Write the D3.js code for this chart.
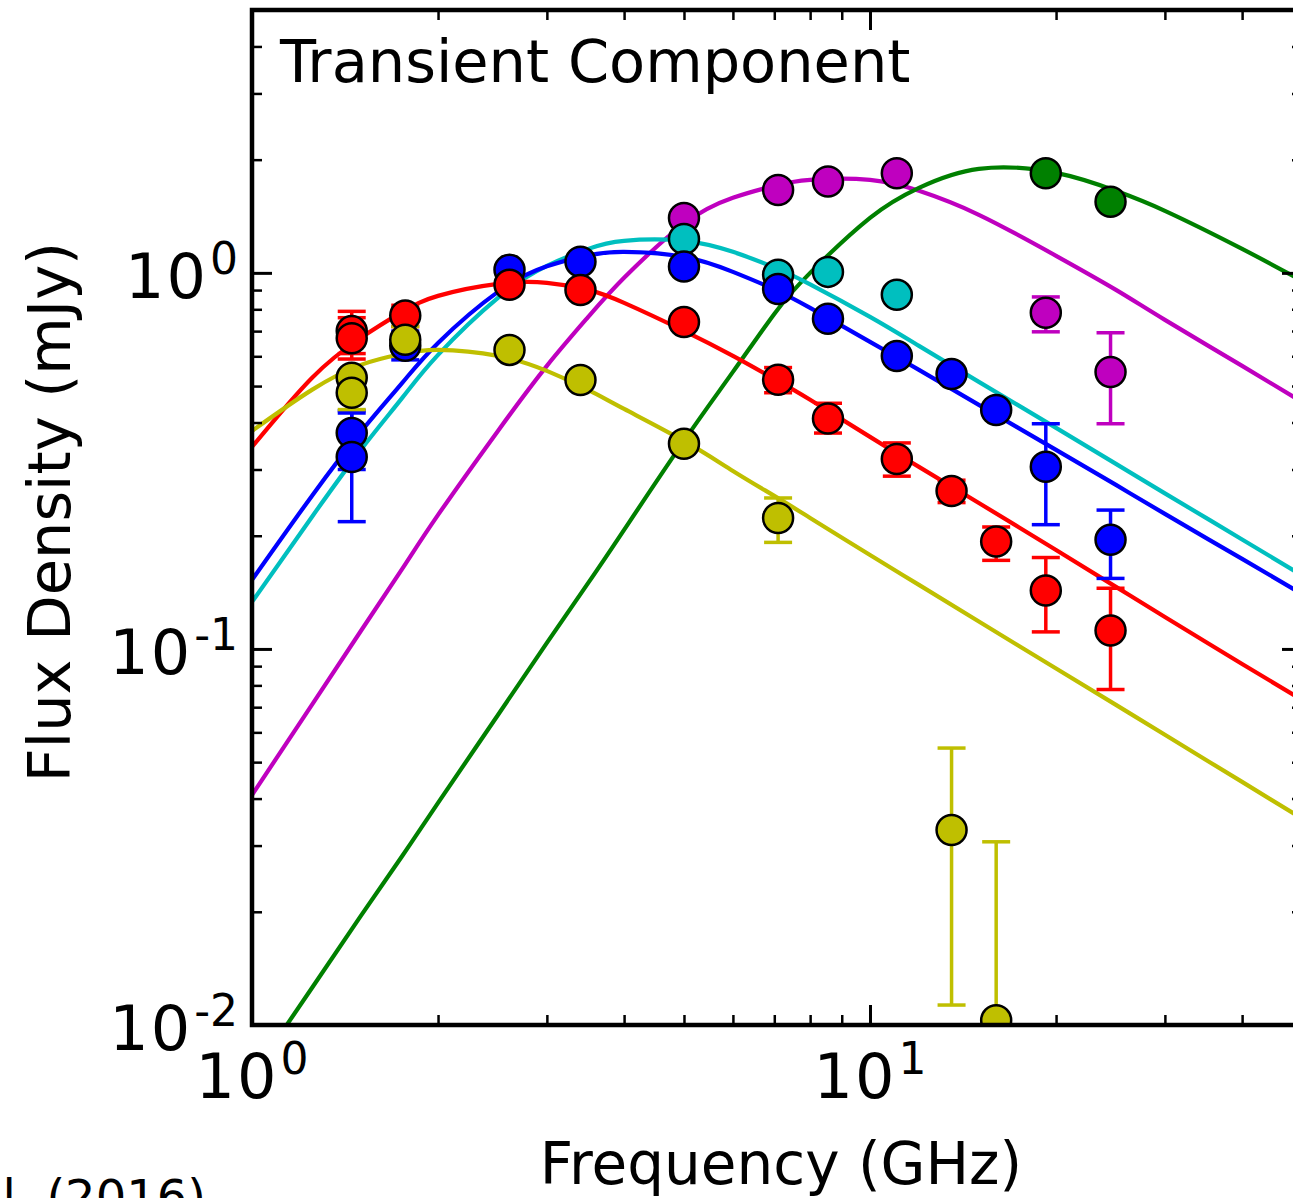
<!DOCTYPE html>
<html lang="en">
<head>
<meta charset="utf-8">
<title>Transient Component</title>
<script src="https://d3js.org/d3.v7.min.js"></script>
<style>
  body { margin: 0; background: #fff; }
  svg { display: block; font-family: "DejaVu Sans", sans-serif; }
</style>
</head>
<body>
<script>
// model curve grid (GHz) and fitted curves (mJy)
const modelFreq = [1, 1.25, 1.5, 1.75, 2, 2.5, 3, 3.5, 4, 5, 6, 7, 8, 10, 12, 15, 20, 25, 30, 40, 50];
const redModel = [0.3445, 0.5256, 0.6716, 0.7874, 0.8685, 0.9348, 0.9406, 0.9011, 0.8322, 0.7012, 0.6015, 0.5225, 0.4596, 0.3663, 0.3048, 0.2444, 0.1833, 0.1462, 0.1216, 0.0912, 0.0732];
const blueModel = [0.1526, 0.2552, 0.3777, 0.5098, 0.6513, 0.8902, 1.0406, 1.1130, 1.1372, 1.1030, 1.0061, 0.9040, 0.8071, 0.6555, 0.5521, 0.4456, 0.3383, 0.2730, 0.2286, 0.1735, 0.1400];
const cyanModel = [0.1334, 0.2244, 0.3383, 0.4650, 0.6051, 0.8580, 1.0438, 1.1582, 1.2165, 1.2165, 1.1372, 1.0342, 0.9320, 0.7636, 0.6394, 0.5130, 0.3872, 0.3105, 0.2592, 0.1955, 0.1568];
const magentaModel = [0.04089, 0.07099, 0.1116, 0.1632, 0.2272, 0.3800, 0.5658, 0.7636, 0.9699, 1.3502, 1.5831, 1.7035, 1.7670, 1.7670, 1.6522, 1.4265, 1.1098, 0.9011, 0.7499, 0.5658, 0.4539];
const greenModel = [0.00732, 0.01254, 0.01950, 0.02815, 0.03896, 0.06675, 0.1038, 0.1498, 0.2073, 0.3574, 0.5453, 0.7779, 1.0, 1.4003, 1.6831, 1.8910, 1.8450, 1.6522, 1.4618, 1.1582, 0.9522];
const yellowModel = [0.3800, 0.4884, 0.5692, 0.6089, 0.6240, 0.6015, 0.5487, 0.4884, 0.4347, 0.3574, 0.2974, 0.2552, 0.2230, 0.1778, 0.1480, 0.1183, 0.0887, 0.0710, 0.0591, 0.0443, 0.0354];

// measurements: frequency, flux, error low, error high (null = no bar)
const redFreq = [1.45, 1.45, 1.77, 2.61, 3.40, 5.0, 7.1, 8.55, 11.05, 13.55, 16.0, 19.25, 24.5];
const redFlux = [0.70, 0.67, 0.77, 0.93, 0.90, 0.74, 0.52, 0.41, 0.32, 0.263, 0.193, 0.143, 0.112];
const redLo = [0.61, 0.59, 0.72, null, null, null, 0.48, 0.375, 0.288, 0.245, 0.172, 0.111, 0.078];
const redHi = [0.79, 0.76, 0.82, null, null, null, 0.56, 0.45, 0.353, 0.281, 0.211, 0.175, 0.145];

const blueFreq = [1.45, 1.45, 1.77, 2.61, 3.40, 5.0, 7.1, 8.55, 11.05, 13.55, 16.0, 19.25, 24.5];
const blueFlux = [0.375, 0.324, 0.64, 1.02, 1.07, 1.04, 0.906, 0.755, 0.601, 0.538, 0.432, 0.305, 0.195];
const blueLo = [0.30, 0.218, 0.587, null, null, null, null, null, null, null, null, 0.214, 0.154];
const blueHi = [0.424, 0.43, 0.70, null, null, null, null, null, null, null, null, 0.397, 0.234];

const cyanFreq = [5.0, 7.1, 8.55, 11.05];
const cyanFlux = [1.23, 0.988, 1.006, 0.874];

const magentaFreq = [5.0, 7.1, 8.55, 11.05, 19.25, 24.5];
const magentaFlux = [1.40, 1.66, 1.75, 1.84, 0.783, 0.545];
const magentaLo = [null, null, null, null, 0.697, 0.397];
const magentaHi = [null, null, null, null, 0.863, 0.693];

const greenFreq = [19.25, 24.5];
const greenFlux = [1.84, 1.545];

const yellowFreq = [1.45, 1.45, 1.77, 2.61, 3.40, 5.0, 7.1, 13.55, 16.0];
const yellowFlux = [0.526, 0.48, 0.664, 0.624, 0.519, 0.351, 0.223, 0.033, 0.0103];
const yellowLo = [null, 0.433, 0.62, null, null, null, 0.192, 0.0113, 0.003];
const yellowHi = [null, 0.53, 0.72, null, null, null, 0.252, 0.0545, 0.0307];

const xExp = ["0", "1"];
const yExp = ["0", "-1", "-2"];

const W = 1293, H = 1198;
const plotL = 252, plotR = 1302, plotT = 10, plotB = 1025;

const x = d3.scaleLog().domain([1, 50]).range([plotL, plotR]);
const y = d3.scaleLog().domain([0.01, 5]).range([plotB, plotT]);

const svg = d3.select("body").append("svg").attr("width", W).attr("height", H);

svg.append("defs").append("clipPath").attr("id", "plot")
  .append("rect").attr("x", plotL).attr("y", plotT)
  .attr("width", plotR - plotL).attr("height", plotB - plotT);

const series = [
  {color: "#bf00bf", model: magentaModel, f: magentaFreq, s: magentaFlux, lo: magentaLo, hi: magentaHi},
  {color: "#008000", model: greenModel, f: greenFreq, s: greenFlux},
  {color: "#00bfbf", model: cyanModel, f: cyanFreq, s: cyanFlux},
  {color: "#0000ff", model: blueModel, f: blueFreq, s: blueFlux, lo: blueLo, hi: blueHi},
  {color: "#ff0000", model: redModel, f: redFreq, s: redFlux, lo: redLo, hi: redHi},
  {color: "#bfbf00", model: yellowModel, f: yellowFreq, s: yellowFlux, lo: yellowLo, hi: yellowHi}
];

const plot = svg.append("g").attr("clip-path", "url(#plot)");

// curves
const line = d3.line()
  .x((d, i) => x(modelFreq[i]))
  .y(d => y(d))
  .curve(d3.curveNatural);

series.forEach(sr => {
  plot.append("path")
    .attr("d", line(sr.model))
    .attr("fill", "none")
    .attr("stroke", sr.color)
    .attr("stroke-width", 4.2);
});

// error bars
const cap = 14;
series.forEach(sr => {
  if (!sr.lo) return;
  const g = plot.append("g").attr("stroke", sr.color).attr("stroke-width", 3.5);
  sr.f.forEach((f, i) => {
    if (sr.lo[i] == null) return;
    const cx = x(f), y0 = y(sr.lo[i]), y1 = y(sr.hi[i]);
    g.append("line").attr("x1", cx).attr("x2", cx).attr("y1", y0).attr("y2", y1);
    g.append("line").attr("x1", cx - cap).attr("x2", cx + cap).attr("y1", y0).attr("y2", y0);
    g.append("line").attr("x1", cx - cap).attr("x2", cx + cap).attr("y1", y1).attr("y2", y1);
  });
});

// points
series.forEach(sr => {
  plot.append("g").selectAll("circle")
    .data(sr.f.map((f, i) => [f, sr.s[i]]))
    .join("circle")
    .attr("cx", d => x(d[0]))
    .attr("cy", d => y(d[1]))
    .attr("r", 15)
    .attr("fill", sr.color)
    .attr("stroke", "#000")
    .attr("stroke-width", 2.5);
});

// ticks, pointing inward on all four sides
const xAll = x.ticks();
const yAll = y.ticks();
const isMajor = v => Math.abs(Math.log10(v) - Math.round(Math.log10(v))) < 1e-9;
const xMinor = xAll.filter(v => !isMajor(v)), xMajor = xAll.filter(isMajor);
const yMinor = yAll.filter(v => !isMajor(v)), yMajor = yAll.filter(isMajor);

function tickAxis(axisFn, scale, vals, len, tr, w) {
  const g = svg.append("g").attr("transform", tr)
    .call(axisFn(scale).tickValues(vals).tickSize(-len).tickFormat(""));
  g.select(".domain").remove();
  g.selectAll(".tick line").attr("stroke", "#000").attr("stroke-width", w);
}
[[xMinor, 10, 2.5], [xMajor, 20, 3]].forEach(([v, l, w]) => {
  tickAxis(d3.axisBottom, x, v, l, `translate(0,${plotB})`, w);
  tickAxis(d3.axisTop, x, v, l, `translate(0,${plotT})`, w);
});
[[yMinor, 10, 2.5], [yMajor, 20, 3]].forEach(([v, l, w]) => {
  tickAxis(d3.axisLeft, y, v, l, `translate(${plotL},0)`, w);
  tickAxis(d3.axisRight, y, v, l, `translate(${plotR},0)`, w);
});

// frame
svg.append("rect")
  .attr("x", plotL).attr("y", plotT)
  .attr("width", plotR - plotL).attr("height", plotB - plotT)
  .attr("fill", "none").attr("stroke", "#000").attr("stroke-width", 4.5);

// tick labels 10^n
function powLabel(px, py, exp, anchor) {
  const t = svg.append("text")
    .attr("x", px).attr("y", py)
    .attr("text-anchor", anchor)
    .attr("font-size", 62)
    .attr("fill", "#000");
  t.append("tspan").attr("letter-spacing", 2).text("10");
  t.append("tspan").attr("dy", -24).attr("dx", 2).attr("font-size", 44).text(exp);
}
xMajor.forEach((v, i) => powLabel(x(v), 1098, xExp[i], "middle"));
yMajor.slice().sort((a, b) => b - a).forEach((v, i) => powLabel(238, y(v) + 25, yExp[i], "end"));

// axis titles
svg.append("text")
  .attr("x", 781).attr("y", 1184)
  .attr("text-anchor", "middle")
  .attr("font-size", 58)
  .text("Frequency (GHz)");

svg.append("text")
  .attr("transform", "translate(70,512) rotate(-90)")
  .attr("text-anchor", "middle")
  .attr("font-size", 59)
  .text("Flux Density (mJy)");

// panel label
svg.append("text")
  .attr("x", 280).attr("y", 82)
  .attr("font-size", 59)
  .text("Transient Component");

// caption fragment cut at the page edge
svg.append("text")
  .attr("x", 206).attr("y", 1214)
  .attr("text-anchor", "end")
  .attr("font-size", 48)
  .text("et al. (2016)");
</script>
</body>
</html>
